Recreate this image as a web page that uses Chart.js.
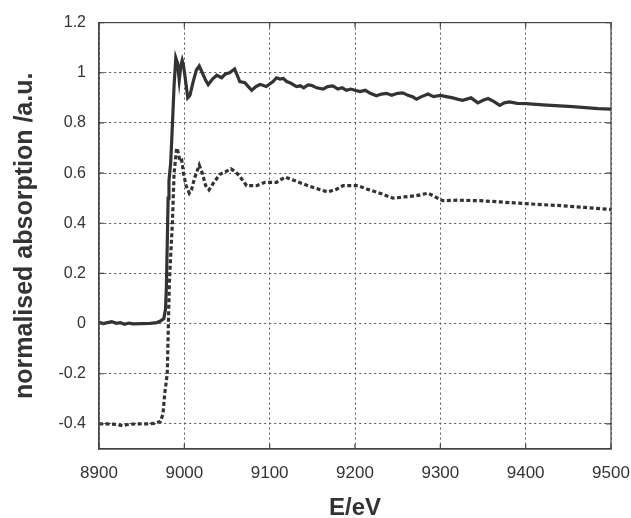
<!DOCTYPE html>
<html>
<head>
<meta charset="utf-8">
<script src="https://cdn.jsdelivr.net/npm/chart.js@4/dist/chart.umd.min.js"></script>
<style>
  html, body { margin: 0; padding: 0; background: #fff; }
  #wrap { width: 631px; height: 518px; }
</style>
</head>
<body>
<div id="wrap"><canvas id="xanesChart"></canvas></div>
<script>
'use strict';

// solid curve
const solidEnergy = [
  8900, 8905, 8910, 8915, 8920, 8925, 8930, 8935, 8940, 8950, 8960, 8968, 8972, 8976,
  8978, 8979, 8980, 8981, 8982, 8984, 8986, 8988, 8990, 8992, 8994, 8996, 8997.5, 8999,
  9001, 9004, 9006.6, 9010, 9014, 9017.5, 9021, 9025, 9028, 9033, 9038, 9043.7, 9048, 9053,
  9059, 9062, 9065, 9071, 9075, 9079, 9084, 9088.5, 9092, 9096, 9100, 9104, 9108, 9112,
  9116, 9120, 9125, 9131.5, 9136, 9140, 9145, 9149, 9155, 9162.6, 9168, 9174, 9180, 9185,
  9190, 9195, 9200, 9205.6, 9212, 9218, 9225, 9231, 9237, 9243, 9250, 9256, 9262, 9267,
  9272, 9278, 9285.6, 9292, 9300, 9307, 9314.6, 9320, 9326, 9336, 9344, 9350, 9356, 9363,
  9369.6, 9375, 9381, 9390, 9400.8, 9420, 9440, 9455, 9470, 9485, 9500
];
const solidAbs = [
  0.005, 0.0, 0.004, 0.008, 0.001, 0.004, -0.003, 0.002, -0.001, 0.0, 0.001, 0.004, 0.01, 0.02,
  0.06, 0.15, 0.32, 0.5, 0.57, 0.64, 0.79, 0.95, 1.06, 1.04, 0.97, 1.03, 1.05, 1.03,
  0.98, 0.90, 0.91, 0.96, 1.01, 1.027, 1.0, 0.97, 0.953, 0.975, 0.99, 0.98, 0.995, 1.0,
  1.015, 0.99, 0.965, 0.96, 0.945, 0.93, 0.945, 0.953, 0.95, 0.945, 0.955, 0.965, 0.98, 0.975,
  0.977, 0.965, 0.958, 0.945, 0.948, 0.94, 0.952, 0.95, 0.94, 0.935, 0.945, 0.948, 0.935, 0.94,
  0.93, 0.935, 0.93, 0.925, 0.93, 0.918, 0.908, 0.915, 0.918, 0.91, 0.918, 0.92, 0.91, 0.905,
  0.895, 0.905, 0.915, 0.905, 0.91, 0.905, 0.90, 0.895, 0.89, 0.90, 0.88, 0.89, 0.897, 0.885,
  0.87, 0.88, 0.884, 0.878, 0.877, 0.872, 0.868, 0.865, 0.861, 0.857, 0.855
];

// dashed curve
const dashedEnergy = [
  8900, 8910, 8920, 8928, 8935, 8945, 8955, 8965, 8972, 8975, 8977, 8980, 8982.4, 8984.3,
  8986, 8988, 8991, 8993, 8995, 8997, 8999, 9002, 9005.8, 9008.5, 9012, 9017.5, 9021, 9025,
  9029, 9035, 9041.7, 9048, 9054.6, 9060, 9065, 9073, 9084.7, 9094.5, 9108, 9118, 9131.5, 9147,
  9158, 9168, 9178, 9186, 9192, 9203.5, 9215, 9229, 9244.6, 9258, 9272, 9285.6, 9294, 9303,
  9320, 9346, 9370, 9401, 9420, 9443, 9470, 9500
];
const dashedAbs = [
  -0.40, -0.40, -0.402, -0.407, -0.401, -0.40, -0.40, -0.398, -0.39, -0.36, -0.28, -0.2, 0.16, 0.29,
  0.40, 0.60, 0.70, 0.68, 0.645, 0.65, 0.6, 0.55, 0.52, 0.535, 0.58, 0.632, 0.6, 0.55,
  0.533, 0.565, 0.595, 0.605, 0.617, 0.605, 0.587, 0.55, 0.55, 0.563, 0.563, 0.584, 0.567, 0.547,
  0.535, 0.525, 0.535, 0.55, 0.55, 0.55, 0.535, 0.52, 0.50, 0.505, 0.51, 0.52, 0.505, 0.49,
  0.492, 0.49, 0.485, 0.478, 0.474, 0.47, 0.463, 0.455
];

const xTicks = [8900, 9000, 9100, 9200, 9300, 9400, 9500];
const yTicks = [-0.4, -0.2, 0, 0.2, 0.4, 0.6, 0.8, 1, 1.2];

function toPoints(xs, ys) {
  return xs.map((x, i) => ({ x: x, y: ys[i] }));
}

// frame on all four sides with short inward ticks
const frameTicks = {
  id: 'frameTicks',
  afterDraw(chart) {
    const ctx = chart.ctx;
    const area = chart.chartArea;
    const xs = chart.scales.x;
    const ys = chart.scales.y;
    const len = 5;
    ctx.save();
    ctx.setLineDash([]);
    ctx.strokeStyle = '#444';
    ctx.lineWidth = 1.2;
    ctx.strokeRect(area.left, area.top, area.right - area.left, area.bottom - area.top);
    ctx.beginPath();
    for (let v of xTicks) {
      const px = xs.getPixelForValue(v);
      ctx.moveTo(px, area.bottom);
      ctx.lineTo(px, area.bottom - len);
      ctx.moveTo(px, area.top);
      ctx.lineTo(px, area.top + len);
    }
    for (let v of yTicks) {
      const py = ys.getPixelForValue(v);
      ctx.moveTo(area.left, py);
      ctx.lineTo(area.left + len, py);
      ctx.moveTo(area.right, py);
      ctx.lineTo(area.right - len, py);
    }
    ctx.stroke();
    ctx.restore();
  }
};

const ctx = document.getElementById('xanesChart').getContext('2d');

new Chart(ctx, {
  type: 'line',
  data: {
    datasets: [{
      label: 'solid',
      data: toPoints(solidEnergy, solidAbs),
      borderColor: '#333',
      borderWidth: 3.2,
      pointRadius: 0,
      tension: 0,
      fill: false
    }, {
      label: 'dashed',
      data: toPoints(dashedEnergy, dashedAbs),
      borderColor: '#333',
      borderWidth: 3.2,
      borderDash: [4, 2.5],
      pointRadius: 0,
      tension: 0,
      fill: false
    }]
  },
  options: {
    responsive: true,
    maintainAspectRatio: false,
    animation: false,
    layout: { padding: { top: 21, right: 0, left: 0, bottom: 0 } },
    plugins: {
      legend: { display: false },
      tooltip: { enabled: false }
    },
    scales: {
      x: {
        type: 'linear',
        min: 8900,
        max: 9500,
        afterFit(scale) {
          scale.height = 69;
          scale.paddingLeft = 0;
          scale.paddingRight = 20;
        },
        afterBuildTicks(scale) { scale.ticks = xTicks.map(v => ({ value: v })); },
        grid: { color: '#555', lineWidth: 1, drawTicks: false },
        border: { display: true, color: '#444', width: 1.2, dash: [2, 3] },
        ticks: {
          padding: 14,
          color: '#333',
          font: { family: 'Liberation Sans', size: 17 },
          maxRotation: 0,
          callback: v => String(v)
        },
        title: {
          display: true,
          text: 'E/eV',
          color: '#333',
          font: { family: 'Liberation Sans', size: 24, weight: 'bold', lineHeight: 1 },
          padding: { top: 0, bottom: -2 }
        }
      },
      y: {
        type: 'linear',
        min: -0.5,
        max: 1.2,
        afterFit(scale) { scale.width = 99; },
        afterBuildTicks(scale) { scale.ticks = yTicks.map(v => ({ value: v })); },
        grid: { color: '#555', lineWidth: 1, drawTicks: false },
        border: { display: true, color: '#444', width: 1.2, dash: [2, 3] },
        ticks: {
          padding: 13,
          color: '#333',
          font: { family: 'Liberation Sans', size: 16 },
          callback: v => String(Math.round(v * 10) / 10)
        },
        title: {
          display: true,
          text: 'normalised absorption /a.u.',
          color: '#333',
          font: { family: 'Liberation Sans', size: 25, weight: 'bold', lineHeight: 1 },
          padding: { top: 13, bottom: 0 }
        }
      }
    }
  },
  plugins: [frameTicks]
});
</script>
</body>
</html>
